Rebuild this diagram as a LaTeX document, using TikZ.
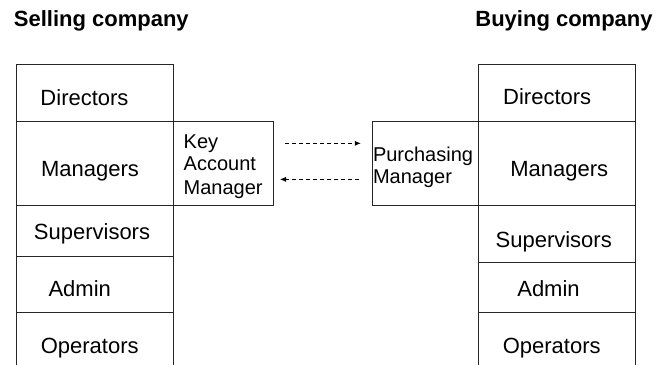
\documentclass[tikz,border=0pt]{standalone}
\usepackage{fontspec}
\setmainfont{Liberation Sans}
\usetikzlibrary{arrows.meta}
\begin{document}
\begin{tikzpicture}[x=1pt,y=-1pt,
  cell/.style={draw=black!85, line width=0.8pt, anchor=north west, inner sep=0pt, outer sep=0pt},
  lab/.style={anchor=base, inner sep=0pt, font=\fontsize{22}{26}\selectfont},
  small/.style={anchor=base west, inner sep=0pt, font=\fontsize{20}{24}\selectfont},
  title/.style={anchor=base, inner sep=0pt, font=\fontsize{22}{26}\selectfont\bfseries},
  link/.style={dash pattern=on 4pt off 3pt, line width=0.8pt, -{Latex[length=6pt,width=5pt]}}]
\clip (0,0) rectangle (660,364);
\fill[white] (0,0) rectangle (660,364);
% titles
\node[title] (tsell) at (101.3,26) {Selling company};
\node[title] (tbuy) at (564,26) {Buying company};
% left stack
\node[cell, minimum width=156.3pt, minimum height=57pt] (ld) at (16.7,64) {};
\node[cell, minimum width=156.3pt, minimum height=84.7pt] (lm) at (16.7,121) {};
\node[cell, minimum width=156.3pt, minimum height=50.3pt] (ls) at (16.7,205.7) {};
\node[cell, minimum width=156.3pt, minimum height=56pt] (la) at (16.7,256) {};
\node[cell, minimum width=156.3pt, minimum height=70pt] (lo) at (16.7,312) {};
\node[lab] (tld) at (84.5,105) {Directors};
\node[lab] (tlm) at (90,176) {Managers};
\node[lab] (tls) at (92,239.3) {Supervisors};
\node[lab] (tla) at (79.7,296) {Admin};
\node[lab] (tlo) at (89.7,353.3) {Operators};
% key account manager
\node[cell, minimum width=100pt, minimum height=84.7pt] (kam) at (173,121) {};
\node[small] (k1) at (183.5,148.3) {Key};
\node[small] (k2) at (183.5,170.7) {Account};
\node[small] (k3) at (183.5,194) {Manager};
% right stack
\node[cell, minimum width=156.7pt, minimum height=57pt] (rd) at (478.3,64) {};
\node[cell, minimum width=156.7pt, minimum height=84.7pt] (rm) at (478.3,121) {};
\node[cell, minimum width=156.7pt, minimum height=56.6pt] (rs) at (478.3,205.7) {};
\node[cell, minimum width=156.7pt, minimum height=50pt] (ra) at (478.3,262.3) {};
\node[cell, minimum width=156.7pt, minimum height=70pt] (ro) at (478.3,312.3) {};
\node[lab] (trd) at (547.2,104) {Directors};
\node[lab] (trm) at (559.2,176) {Managers};
\node[lab] (trs) at (553.7,247.3) {Supervisors};
\node[lab] (tra) at (548.5,296) {Admin};
\node[lab] (tro) at (551.7,353.3) {Operators};
% purchasing manager
\node[cell, minimum width=106pt, minimum height=84.7pt] (pm) at (372.3,121) {};
\node[small] (p1) at (372.8,161) {Purchasing};
\node[small] (p2) at (372.8,183.3) {Manager};
% arrows
\draw[link, shorten <=12pt, shorten >=11.5pt] ([yshift=20pt]kam.east) -- ([yshift=20pt]pm.west);
\draw[link, shorten <=13pt, shorten >=7pt] ([yshift=-16pt]pm.west) -- ([yshift=-16pt]kam.east);
\end{tikzpicture}
\end{document}
